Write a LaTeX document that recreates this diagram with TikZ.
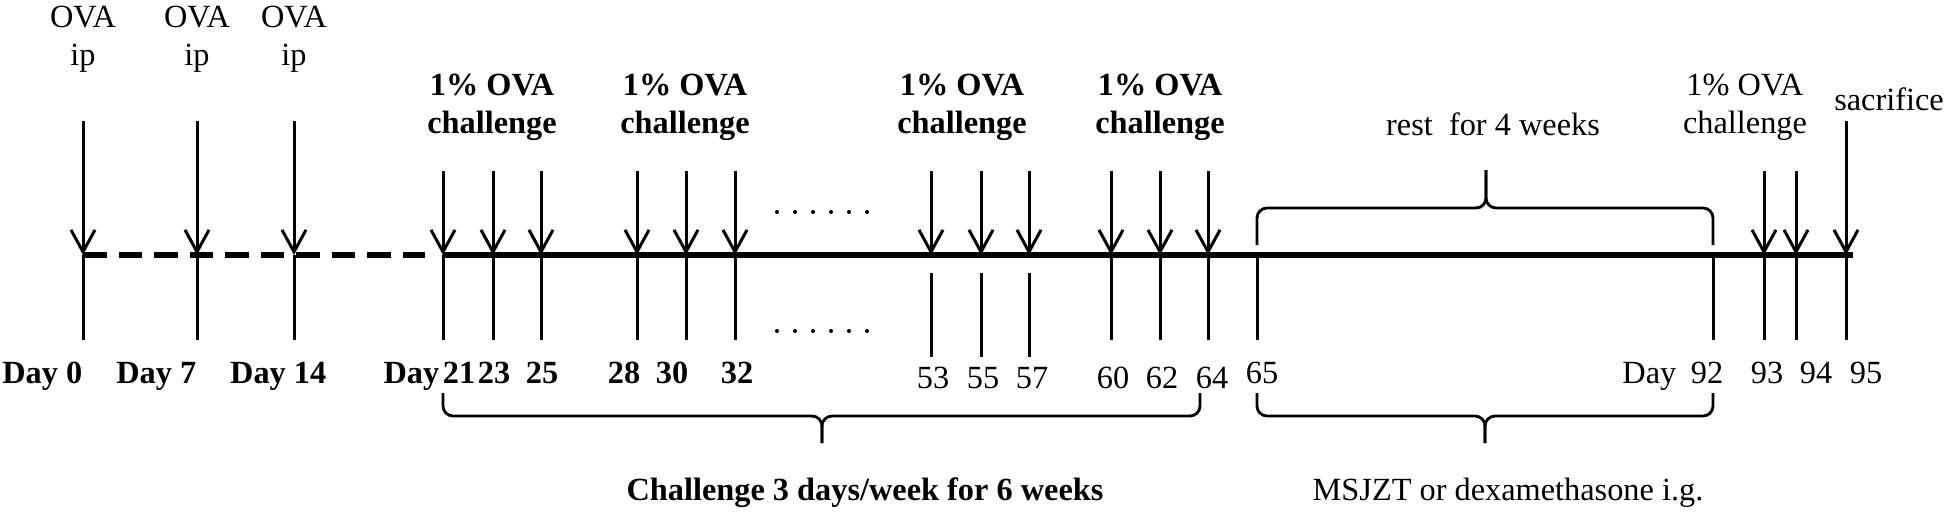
\documentclass[tikz,border=0pt]{standalone}
\usepackage{fontspec}
\setmainfont{Liberation Serif}
\usepackage{tikz}
\usetikzlibrary{calc,arrows.meta}
\definecolor{ink}{HTML}{000000}
\tikzset{
  mainline/.style={draw=ink, line width=0.65mm},
  dashline/.style={mainline, dash pattern=on 2.35mm off 1.2mm},
  dose/.style={draw=ink, line width=0.3mm, -{Straight Barb[length=2.2mm,width=2.4mm]}},
  daytick/.style={draw=ink, line width=0.3mm},
  brc/.style={draw=ink, line width=0.28mm, rounded corners=1mm},
  lab/.style={text=ink, font=\fontsize{9.2}{11}\selectfont, inner sep=0pt, anchor=base},
  labb/.style={lab, font=\fontsize{9.2}{11}\selectfont\bfseries},
  dotmark/.style={fill=ink},
}
\begin{document}
\begin{tikzpicture}[x=0.1mm, y=0.1mm]
  \useasboundingbox (0,-257) rectangle (1950,255);
  % days on the time line
  \foreach \d/\x in {0/83,7/197,14/294,21/443,23/493,25/541,28/637,30/686,32/735,53/931,55/981,57/1029,60/1111,62/1160,64/1208,65/1257,92/1713,93/1764,94/1796,95/1846}
    \coordinate (d\d) at (\x,0);
  \coordinate (dashend) at (425,0);
  \coordinate (lineend) at (1853,0);

  \draw[dashline] (d0) -- (dashend);
  \draw[mainline] (d21) -- (lineend);

  % ip sensitisation and sacrifice
  \foreach \d in {0,7,14,95}{
    \coordinate (top\d) at ($(d\d)+(0,134)$);
    \draw[dose] (top\d) -- (d\d);
  }
  % challenges
  \foreach \d in {21,23,25,28,30,32,53,55,57,60,62,64,93,94}{
    \coordinate (top\d) at ($(d\d)+(0,84)$);
    \draw[dose] (top\d) -- (d\d);
  }
  \foreach \d in {0,7,14,21,23,25,28,30,32,60,62,64,65,92,93,94,95}{
    \coordinate (foot\d) at ($(d\d)+(0,-85)$);
    \draw[daytick] (d\d) -- (foot\d);
  }
  \foreach \d in {53,55,57}{
    \coordinate (head\d) at ($(d\d)+(0,-18)$);
    \coordinate (foot\d) at ($(d\d)+(0,-102)$);
    \draw[daytick] (head\d) -- (foot\d);
  }

  % omitted weeks
  \foreach \i in {0,...,5}{
    \fill[dotmark] ({777+18*\i},43) circle[radius=0.2mm];
    \fill[dotmark] ({777+18*\i},-76) circle[radius=0.2mm];
  }

  % labels above
  \foreach \d in {0,7,14}{
    \node[lab] (ova\d) at ($(d\d)+(0,228)$) {OVA};
    \node[lab] (ip\d) at ($(d\d)+(0,190)$) {ip};
  }
  \foreach \n/\x in {a/492,b/685,c/962,d/1160}{
    \node[labb] (pct\n) at (\x,160) {1\% OVA};
    \node[labb] (chal\n) at (\x,122) {challenge};
  }
  \node[lab] (pcte) at (1745,160) {1\% OVA};
  \node[lab] (chale) at (1745,122) {challenge};
  \node[lab] (sacr) at (1889,145) {sacrifice};
  \node[lab] (rest) at (1493,120) {rest~~for 4 weeks};

  % labels below
  \node[labb, anchor=base east] (day0) at (83,-128) {Day 0};
  \node[labb, anchor=base east] (day7) at (197,-128) {Day 7};
  \node[labb, anchor=base east] (day14) at (327,-128) {Day 14};
  \node[labb, anchor=base east] (day21) at (440,-128) {Day};
  \foreach \d/\x in {21/459,23/494,25/542,28/624,30/672,32/737}
    \node[labb] (n\d) at (\x,-128) {\d};
  \foreach \d/\x in {53/933,55/983,57/1032,60/1113,62/1162,64/1212}
    \node[lab] (n\d) at (\x,-133) {\d};
  \foreach \d/\x in {65/1262,92/1707,93/1767,94/1816,95/1866}
    \node[lab] (n\d) at (\x,-128) {\d};
  \node[lab, anchor=base east] (day92) at (1677,-128) {Day};

  % braces
  \draw[brc] (1257,10) -- (1257,47) -- (1486,47) -- (1486,85);
  \draw[brc] (1713,10) -- (1713,47) -- (1486,47) -- (1486,85);
  \draw[brc] (443,-138) -- (443,-161) -- (822,-161) -- (822,-188);
  \draw[brc] (1200,-138) -- (1200,-161) -- (822,-161) -- (822,-188);
  \draw[brc] (1257,-138) -- (1257,-161) -- (1485,-161) -- (1485,-188);
  \draw[brc] (1713,-138) -- (1713,-161) -- (1485,-161) -- (1485,-188);

  \node[labb] (chaltxt) at (865,-245) {Challenge 3 days/week for 6 weeks};
  \node[lab] (treat) at (1508,-245) {MSJZT or dexamethasone i.g.};
\end{tikzpicture}
\end{document}
